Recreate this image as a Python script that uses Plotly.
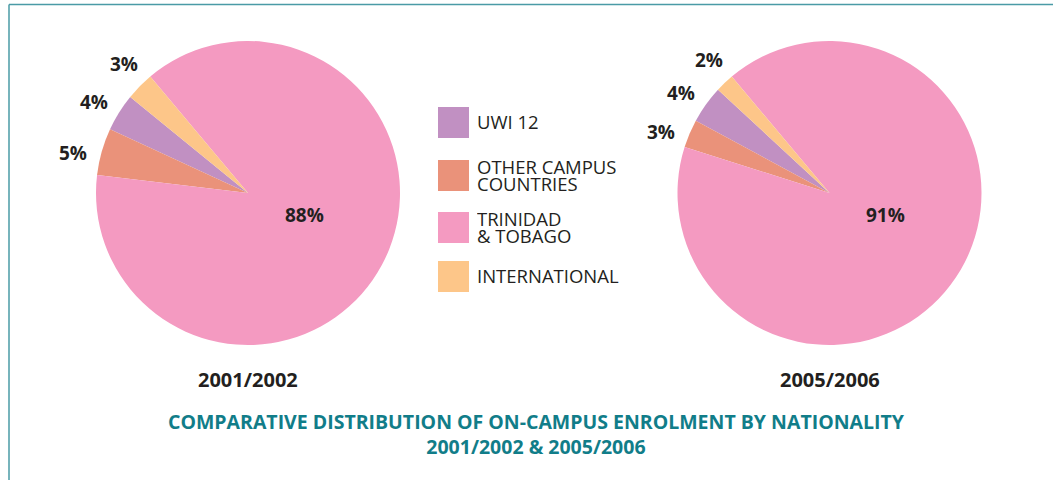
import math
import plotly.graph_objects as go

W, H = 1053, 480

# slice data (legend order)
categories = ["UWI 12", "OTHER CAMPUS COUNTRIES", "TRINIDAD & TOBAGO", "INTERNATIONAL"]
legend_lines = [["UWI 12"], ["OTHER CAMPUS", "COUNTRIES"], ["TRINIDAD", "&amp; TOBAGO"], ["INTERNATIONAL"]]
share_2001 = [4, 5, 88, 3]
share_2005 = [4, 3, 91, 2]
years = ["2001/2002", "2005/2006"]
colors = ["#C190C2", "#EA927A", "#F49AC1", "#FDC689"]

FONT = "Open Sans"
TEXT = "#231F20"
TEAL = "#117D89"


def px_x(x):
    return x / W


def px_y(y):
    return 1 - y / H


fig = go.Figure()

# (values, centre x, angle where the first slice begins, degrees counter-clockwise from 12 o'clock)
pies = [
    (share_2001, 248, 50.8),
    (share_2005, 829.5, 47.2),
]
R = 152
CY = 193
label_nudge = [1.5, 3.0, 0, -1.5]   # small spread of the outside labels, degrees
annotations = []
for vals, cx, start in pies:
    total = sum(vals)
    # plotly puts the first slice (counter-clockwise mode) between rotation and rotation + its span
    first_span = 360 * vals[0] / total
    fig.add_trace(go.Pie(
        labels=categories,
        values=vals,
        sort=False,
        direction="counterclockwise",
        rotation=-(start + first_span),
        marker=dict(colors=colors, line=dict(width=0)),
        textinfo="none",
        domain=dict(x=[px_x(cx - R), px_x(cx + R)], y=[px_y(CY + R), px_y(CY - R)]),
        showlegend=False,
        hoverinfo="label+value",
    ))
    # percentage labels placed from the slice angles
    a = start
    for i, v in enumerate(vals):
        span = 360 * v / total
        mid = a + span / 2
        a += span
        if i == 2:
            ang, r = -111, 60   # big slice: label inside, right of centre
        else:
            ang, r = mid + label_nudge[i], 179
        x = cx - r * math.sin(math.radians(ang))
        y = CY - r * math.cos(math.radians(ang))
        annotations.append(dict(x=px_x(x), y=px_y(y), xref="paper", yref="paper",
                                text="<b>%d%%</b>" % v, showarrow=False,
                                xanchor="center", yanchor="middle",
                                font=dict(family=FONT, size=19, color=TEXT)))

shapes = []

# frame lines (top and left)
shapes.append(dict(type="line", xref="paper", yref="paper", x0=px_x(9), x1=1, y0=px_y(4.5), y1=px_y(4.5),
                   line=dict(color="#4A9BA6", width=1.5)))
shapes.append(dict(type="line", xref="paper", yref="paper", x0=px_x(9), x1=px_x(9), y0=px_y(4.5), y1=0,
                   line=dict(color="#4A9BA6", width=1.5)))

# custom legend with large swatches
sw_top = [107, 160, 212, 261]
for i, lines in enumerate(legend_lines):
    y0 = sw_top[i]
    shapes.append(dict(type="rect", xref="paper", yref="paper",
                       x0=px_x(438), x1=px_x(469), y0=px_y(y0 + 31), y1=px_y(y0),
                       fillcolor=colors[i], line=dict(width=0)))
    if len(lines) == 1:
        ys = [y0 + 14.5]
    else:
        ys = [y0 + 6.5, y0 + 23.5]
    for ln, yy in zip(lines, ys):
        annotations.append(dict(x=px_x(476), y=px_y(yy), xref="paper", yref="paper",
                                text=ln, showarrow=False, xanchor="left", yanchor="middle", align="left",
                                height=15, valign="middle", borderpad=0,
                                font=dict(family=FONT, size=18.5, color=TEXT)))

# year captions
for yr, cx in zip(years, [248, 829.5]):
    annotations.append(dict(x=px_x(cx), y=px_y(379), xref="paper", yref="paper", text="<b>" + yr + "</b>",
                            showarrow=False, xanchor="center", yanchor="middle",
                            font=dict(family=FONT, size=20, color=TEXT)))

# bottom title
annotations.append(dict(x=px_x(536), y=px_y(434), xref="paper", yref="paper",
                        text="<b>COMPARATIVE DISTRIBUTION OF ON-CAMPUS ENROLMENT BY NATIONALITY<br>2001/2002 &amp; 2005/2006</b>",
                        showarrow=False, xanchor="center", yanchor="middle", align="center",
                        font=dict(family=FONT, size=19.5, color=TEAL)))

fig.update_layout(
    width=W, height=H,
    margin=dict(l=0, r=0, t=0, b=0),
    paper_bgcolor="white",
    plot_bgcolor="white",
    shapes=shapes,
    annotations=annotations,
)

fig.write_html("out.html", config={"displayModeBar": False},
               post_script="document.body.style.margin='0';")
